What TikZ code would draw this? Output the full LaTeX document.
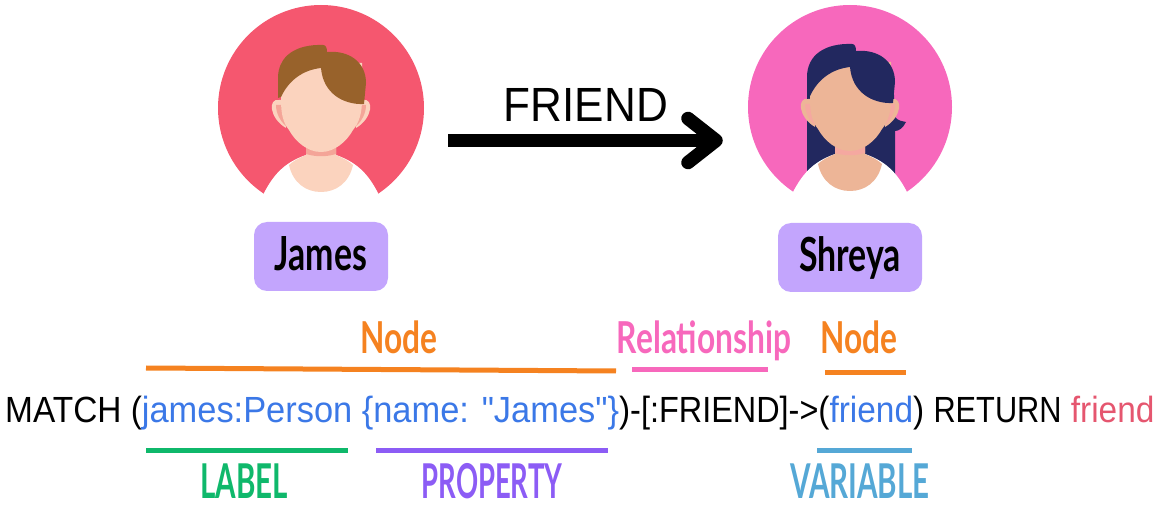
\documentclass[tikz,border=0pt]{standalone}
\usepackage{fontspec}
\setmainfont{Liberation Sans}
\newfontfamily\codefont[FakeStretch=0.918]{Liberation Sans}
\newfontfamily\handfont[FakeStretch=0.72]{Lato}
\newfontfamily\capsfont[FakeStretch=0.615]{Lato}
\usetikzlibrary{arrows.meta,positioning}
\definecolor{orangeline}{HTML}{F58220}
\definecolor{pinkline}{HTML}{F768BC}
\definecolor{greenline}{HTML}{0FB86B}
\definecolor{purpleline}{HTML}{8C5CF5}
\definecolor{blueline}{HTML}{55A8D6}
\definecolor{codeblue}{HTML}{3B78E7}
\definecolor{codered}{HTML}{E5566F}
\definecolor{boxpurple}{HTML}{C3A5FD}
\definecolor{jamesred}{HTML}{F5576F}
\definecolor{jamesskin}{HTML}{FBD3BE}
\definecolor{jamesshade}{HTML}{F4A598}
\definecolor{jameshair}{HTML}{98622B}
\definecolor{shreyapink}{HTML}{F768BC}
\definecolor{shreyaskin}{HTML}{EDB597}
\definecolor{shreyashade}{HTML}{F5A8A0}
\definecolor{shreyahair}{HTML}{22285F}
\tikzset{
disc/.style={circle,inner sep=0pt},
namebox/.style={fill=boxpurple,rounded corners=13pt,inner sep=0pt,text height=36pt,text depth=8pt,font=\handfont\fontsize{47}{47}\selectfont\bfseries},
tag/.style={anchor=base,font=\handfont\fontsize{44}{44}\selectfont\bfseries,inner sep=0pt},
captag/.style={anchor=base,font=\capsfont\fontsize{48}{48}\selectfont\bfseries,inner sep=0pt},
underline/.style={line width=5pt}}
% one head and shoulders, drawn round the centre of the face
\newcommand{\persondraw}[3]{
\fill[white] (-57,85) .. controls (-48,68) and (-38,55) .. (-15,47) -- (15,47) .. controls (38,55) and (48,68) .. (57,85) -- (60,110) -- (-60,110) -- cycle;
\fill[#1] (-15,38) -- (15,38) -- (15,47) .. controls (22,50) and (28,53) .. (32,57) .. controls (28,75) and (15,84) .. (0,84) .. controls (-15,84) and (-28,75) .. (-32,57) .. controls (-28,53) and (-22,50) .. (-15,47) -- cycle;
\fill[#3] (-15,40) -- (15,40) -- (15,46) .. controls (5,49) and (-5,49) .. (-15,46) -- cycle;
\foreach \side in {-1,1}{
\fill[#1] (\side*42,-8) .. controls (\side*53,-10) and (\side*52,10) .. (\side*35,20) -- (\side*36,-8) -- cycle;
\fill[#3] (\side*45,-3) .. controls (\side*45,5) and (\side*41,13) .. (\side*35,18) -- (\side*38,-3) -- cycle;
}
\fill[#1] (-40,-8) .. controls (-40,5) and (-38,15) .. (-32,22) .. controls (-26,33) and (-14,44) .. (0,44) .. controls (14,44) and (26,33) .. (32,22) .. controls (38,15) and (41,5) .. (41,-8) -- (41,-45) -- (-40,-45) -- cycle;
\fill[#2] (-43,-10) -- (-43,-30) .. controls (-43,-52) and (-25,-64) .. (2,-63) .. controls (5,-63) and (6,-60) .. (6,-56) .. controls (28,-58) and (45,-46) .. (45,-25) -- (43,-4) .. controls (22,-3) and (2,-15) .. (0,-40) .. controls (-18,-38) and (-32,-28) .. (-40,-11) -- cycle;
}
\begin{document}
\begin{tikzpicture}[x=1pt,y=-1pt]
\path[use as bounding box] (0,0) rectangle (1162,518);
% the two people
\node[disc,fill=jamesred,minimum size=206pt] (jamesdisc) at (321,108) {};
\begin{scope}[shift={(jamesdisc.center)}]
\persondraw{jamesskin}{jameshair}{jamesshade}
\end{scope}
\node[disc,fill=shreyapink,minimum size=204pt] (shreyadisc) at (850,107) {};
\begin{scope}[shift={(shreyadisc.center)}]
\fill[shreyahair] (-43,-12) -- (44,-12) -- (45,10) .. controls (48,14) and (52,14) .. (56,15) .. controls (53,21) and (49,24) .. (45,24) -- (45,72) -- (-43,72) -- cycle;
\persondraw{shreyaskin}{shreyahair}{shreyashade}
\end{scope}
\node[namebox,minimum width=134pt,minimum height=69pt] (jamesbox) at (321,256.5) {James};
\node[namebox,minimum width=144pt,minimum height=69pt] (shreyabox) at (850,257.5) {Shreya};
% friend arrow
\coordinate (arrowstart) at (448,140.5);
\coordinate (arrowend) at (716,140.5);
\draw[line width=13.5pt] (arrowstart) -- (arrowend);
\draw[line width=13.5pt,line cap=round,line join=round] (arrowend) ++(-28,-22) -- (arrowend) -- ++(-28,22);
\node[inner sep=0pt,anchor=base,font=\codefont\fontsize{48}{48}\selectfont] (friendlabel) at (586,122) {FRIEND};
% query
\node[inner sep=0pt,anchor=base west,font=\codefont\fontsize{36.4}{36.4}\selectfont] (query) at (5,423) {MATCH (\textcolor{codeblue}{\scalebox{1.03}[1]{james:Person \{name: "James"\}}})\scalebox{.97}[1]{-[:FRIEND]->}(\textcolor{codeblue}{friend}) \scalebox{.92}[1]{RETURN} \textcolor{codered}{friend}};
% tags above and below
\node[tag,text=orangeline] (nodeone) at (399,354) {Node};
\node[tag,text=pinkline] (relationship) at (704,354) {Relationship};
\node[tag,text=orangeline] (nodetwo) at (859,354) {Node};
\node[captag,text=greenline] (labeltag) at (244,498) {LABEL};
\node[captag,text=purpleline] (propertytag) at (492,498) {\scalebox{.93}[1]{PROPERTY}};
\node[captag,text=blueline] (variabletag) at (860,498) {VARIABLE};
\foreach \col/\xa/\ya/\xb/\yb in {orangeline/146/368/616/371,pinkline/632/370/768/370,orangeline/825/373/906/373,greenline/146/450/348/450,purpleline/376/450/608/450,blueline/817/450/912/450}{
\draw[underline,\col] (\xa,\ya) -- (\xb,\yb);
}
\end{tikzpicture}
\end{document}
